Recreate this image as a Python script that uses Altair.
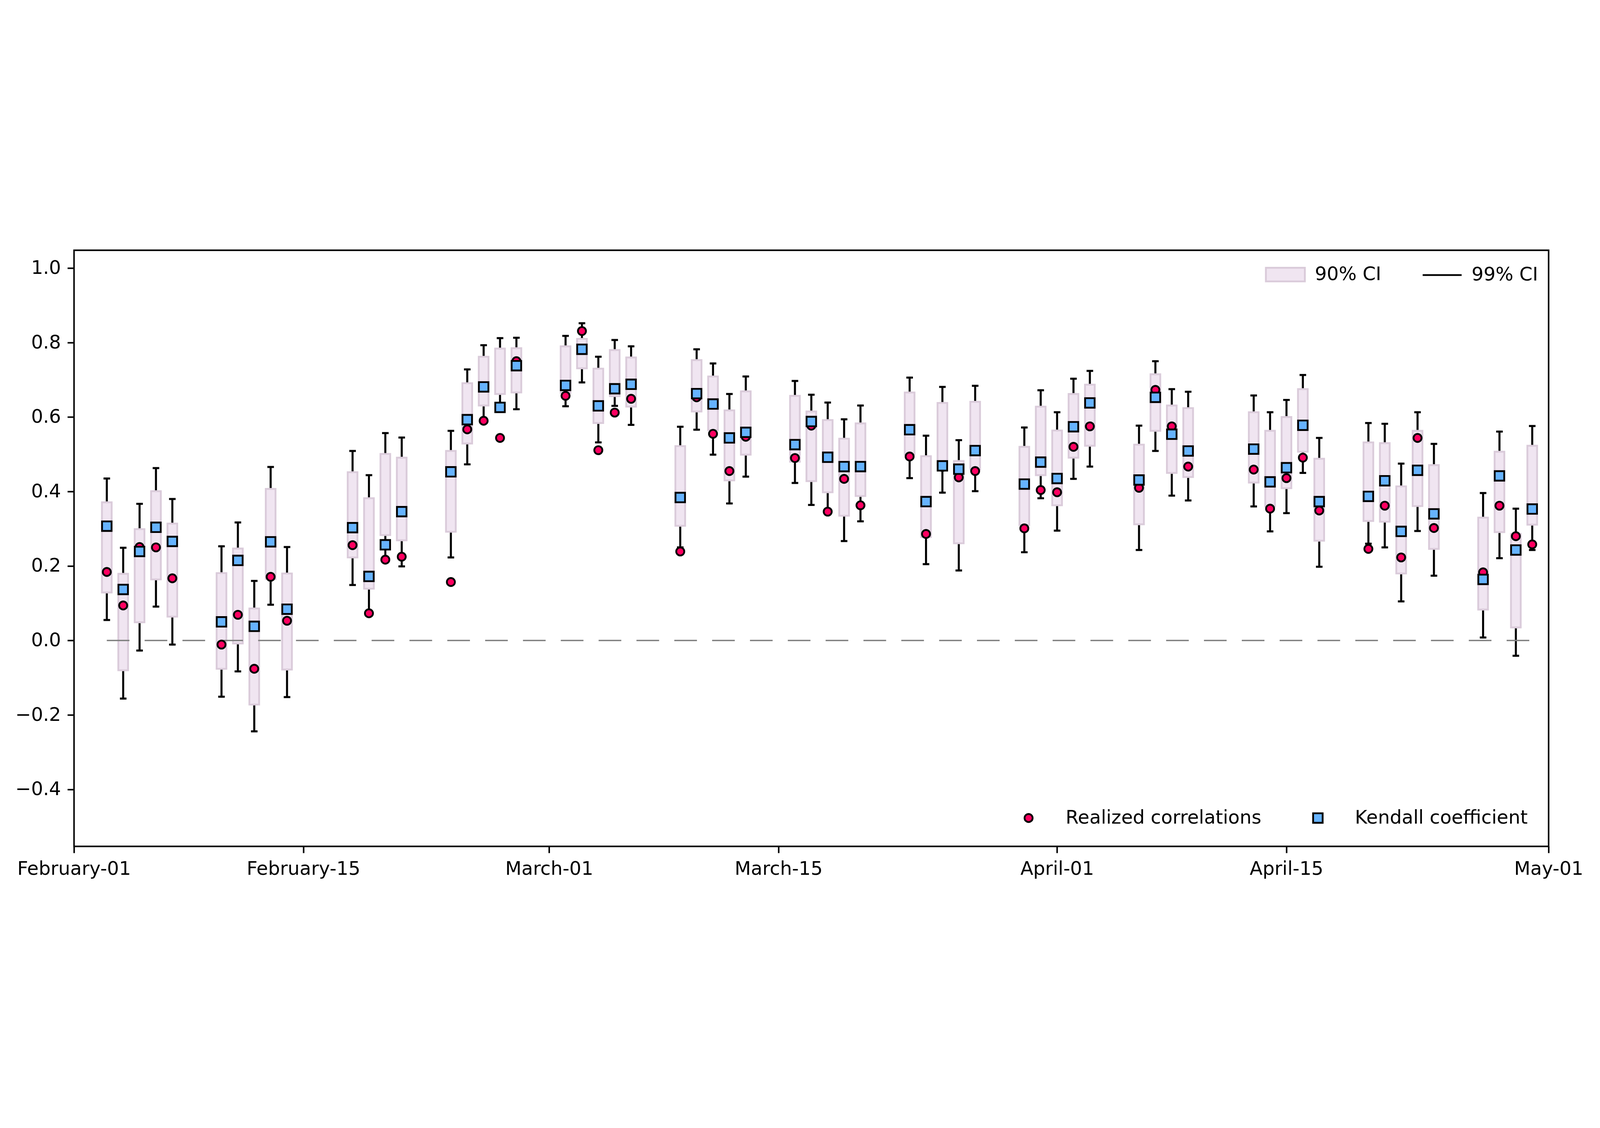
import altair as alt
import pandas as pd

# ---------------- data ----------------
dates = [
    "2020-02-03", "2020-02-04", "2020-02-05", "2020-02-06", "2020-02-07",
    "2020-02-10", "2020-02-11", "2020-02-12", "2020-02-13", "2020-02-14",
    "2020-02-18", "2020-02-19", "2020-02-20", "2020-02-21",
    "2020-02-24", "2020-02-25", "2020-02-26", "2020-02-27", "2020-02-28",
    "2020-03-02", "2020-03-03", "2020-03-04", "2020-03-05", "2020-03-06",
    "2020-03-09", "2020-03-10", "2020-03-11", "2020-03-12", "2020-03-13",
    "2020-03-16", "2020-03-17", "2020-03-18", "2020-03-19", "2020-03-20",
    "2020-03-23", "2020-03-24", "2020-03-25", "2020-03-26", "2020-03-27",
    "2020-03-30", "2020-03-31", "2020-04-01", "2020-04-02", "2020-04-03",
    "2020-04-06", "2020-04-07", "2020-04-08", "2020-04-09",
    "2020-04-13", "2020-04-14", "2020-04-15", "2020-04-16", "2020-04-17",
    "2020-04-20", "2020-04-21", "2020-04-22", "2020-04-23", "2020-04-24",
    "2020-04-27", "2020-04-28", "2020-04-29", "2020-04-30",
]
realized = [
    0.184, 0.094, 0.251, 0.250, 0.167,
    -0.011, 0.069, -0.076, 0.171, 0.053,
    0.256, 0.073, 0.217, 0.225,
    0.157, 0.567, 0.590, 0.544, 0.750,
    0.657, 0.831, 0.511, 0.612, 0.649,
    0.239, 0.653, 0.555, 0.455, 0.547,
    0.490, 0.577, 0.346, 0.434, 0.363,
    0.494, 0.286, 0.466, 0.438, 0.455,
    0.301, 0.404, 0.398, 0.520, 0.575,
    0.410, 0.673, 0.575, 0.467,
    0.459, 0.354, 0.436, 0.491, 0.349,
    0.246, 0.362, 0.223, 0.544, 0.302,
    0.183, 0.362, 0.280, 0.258,
]
kendall = [
    0.307, 0.137, 0.239, 0.304, 0.266,
    0.050, 0.215, 0.038, 0.265, 0.084,
    0.303, 0.172, 0.257, 0.346,
    0.453, 0.593, 0.681, 0.626, 0.738,
    0.685, 0.782, 0.630, 0.676, 0.688,
    0.384, 0.663, 0.635, 0.544, 0.559,
    0.526, 0.588, 0.492, 0.467, 0.467,
    0.566, 0.373, 0.469, 0.460, 0.510,
    0.420, 0.479, 0.435, 0.574, 0.638,
    0.431, 0.653, 0.554, 0.509,
    0.514, 0.426, 0.464, 0.578, 0.373,
    0.387, 0.429, 0.293, 0.457, 0.340,
    0.164, 0.442, 0.243, 0.353,
]
ci90_lo = [
    0.129, -0.080, 0.049, 0.164, 0.064,
    -0.076, -0.008, -0.172, 0.165, -0.078,
    0.223, 0.139, 0.283, 0.269,
    0.292, 0.529, 0.631, 0.662, 0.666,
    0.665, 0.731, 0.584, 0.656, 0.628,
    0.308, 0.615, 0.565, 0.430, 0.499,
    0.480, 0.428, 0.398, 0.335, 0.388,
    0.500, 0.278, 0.470, 0.261, 0.460,
    0.310, 0.444, 0.363, 0.491, 0.523,
    0.312, 0.563, 0.450, 0.439,
    0.424, 0.360, 0.409, 0.507, 0.268,
    0.321, 0.319, 0.180, 0.361, 0.246,
    0.083, 0.291, 0.035, 0.311,
]
ci90_hi = [
    0.371, 0.179, 0.299, 0.401, 0.314,
    0.181, 0.247, 0.086, 0.407, 0.180,
    0.452, 0.382, 0.501, 0.491,
    0.509, 0.691, 0.762, 0.784, 0.785,
    0.790, 0.810, 0.730, 0.780, 0.760,
    0.522, 0.753, 0.709, 0.618, 0.669,
    0.657, 0.615, 0.592, 0.542, 0.583,
    0.666, 0.495, 0.638, 0.482, 0.641,
    0.520, 0.628, 0.564, 0.662, 0.687,
    0.526, 0.715, 0.631, 0.624,
    0.613, 0.563, 0.600, 0.675, 0.488,
    0.532, 0.530, 0.414, 0.563, 0.471,
    0.330, 0.507, 0.286, 0.523,
]
ci99_lo = [
    0.055, -0.156, -0.027, 0.091, -0.011,
    -0.151, -0.083, -0.244, 0.096, -0.152,
    0.149, 0.080, 0.210, 0.199,
    0.223, 0.473, 0.595, 0.630, 0.621,
    0.629, 0.693, 0.532, 0.630, 0.579,
    0.250, 0.566, 0.499, 0.368, 0.440,
    0.423, 0.364, 0.340, 0.267, 0.320,
    0.436, 0.205, 0.397, 0.188, 0.401,
    0.237, 0.382, 0.295, 0.434, 0.467,
    0.243, 0.509, 0.389, 0.376,
    0.360, 0.293, 0.342, 0.450, 0.198,
    0.260, 0.250, 0.105, 0.294, 0.174,
    0.008, 0.221, -0.041, 0.243,
]
ci99_hi = [
    0.435, 0.249, 0.367, 0.463, 0.380,
    0.253, 0.317, 0.160, 0.466, 0.251,
    0.509, 0.444, 0.557, 0.545,
    0.563, 0.728, 0.793, 0.812, 0.813,
    0.818, 0.852, 0.762, 0.807, 0.790,
    0.574, 0.782, 0.744, 0.662, 0.709,
    0.697, 0.660, 0.639, 0.594, 0.631,
    0.706, 0.550, 0.681, 0.538, 0.684,
    0.572, 0.672, 0.613, 0.703, 0.724,
    0.577, 0.750, 0.675, 0.668,
    0.658, 0.613, 0.646, 0.713, 0.544,
    0.584, 0.582, 0.475, 0.613, 0.528,
    0.396, 0.561, 0.354, 0.576,
]

series_names = ["Realized correlations", "Kendall coefficient"]
ci_names = ["90% CI", "99% CI"]
x_domain = ["2020-02-01", "2020-05-01"]
x_tick_dates = ["2020-02-01", "2020-02-15", "2020-03-01", "2020-03-15",
                "2020-04-01", "2020-04-15", "2020-05-01"]
y_ticks = [-0.4, -0.2, 0.0, 0.2, 0.4, 0.6, 0.8, 1.0]
y_domain = [-0.553, 1.048]

# ---------------- tables ----------------
df = pd.DataFrame({
    "date": dates, "lo90": ci90_lo, "hi90": ci90_hi,
    "lo99": ci99_lo, "hi99": ci99_hi,
})
pts = pd.concat([
    pd.DataFrame({"date": dates, "value": realized, "series": series_names[0]}),
    pd.DataFrame({"date": dates, "value": kendall, "series": series_names[1]}),
], ignore_index=True)
zero_df = pd.DataFrame({"start": [dates[0]], "end": [dates[-1]], "y": [0.0]})
leg_df = pd.DataFrame({"ci": ci_names, "date": [dates[0]] * 2, "v": [0.0, 0.0]})


def ms(d):
    return int(pd.Timestamp(d, tz="UTC").value // 10**6)


FONT = "DejaVu Sans"
FS = 83
BOX_FILL = "#f0e5f1"
BOX_EDGE = "#dacbda"
RED = "#ff0060"
BLUE = "#66b3ff"

x_scale = alt.Scale(type="utc", domain=[ms(d) for d in x_domain], nice=False)
x_axis = alt.Axis(values=[ms(d) for d in x_tick_dates],
                  labelExpr="utcFormat(datum.value, '%B-%d')",
                  title=None, labelFlush=False,
                  labelOverlap=False, labelBound=False, labelLimit=3000)
y_scale = alt.Scale(domain=y_domain, nice=False, zero=False)
y_axis = alt.Axis(values=y_ticks, format=".1f", title=None, labelLimit=3000)


def X(field="date"):
    return alt.X(f"{field}:T", scale=x_scale, axis=x_axis, title=None)


def Y(field):
    return alt.Y(f"{field}:Q", scale=y_scale, axis=y_axis, title=None)


whisker = alt.Chart(df).mark_rule(color="black", strokeWidth=9).encode(
    x=X(), y=Y("lo99"), y2="hi99:Q")
cap_lo = alt.Chart(df).mark_rule(color="black", strokeWidth=9,
                                 xOffset=-14.5, x2Offset=14.5).encode(
    x=X(), x2="date:T", y=Y("lo99"))
cap_hi = alt.Chart(df).mark_rule(color="black", strokeWidth=9,
                                 xOffset=-14.5, x2Offset=14.5).encode(
    x=X(), x2="date:T", y=Y("hi99"))
boxes = alt.Chart(df).mark_rect(fill=BOX_FILL, stroke=BOX_EDGE, strokeWidth=8,
                                xOffset=-21.5, x2Offset=21.5).encode(
    x=X(), x2="date:T", y=Y("lo90"), y2="hi90:Q")
zero = alt.Chart(zero_df).mark_rule(color="#808080", strokeWidth=6,
                                    strokeDash=[100, 67]).encode(
    x=X("start"), x2="end:T", y=Y("y"))

pt_legend = alt.Legend(
    title=None, orient="none", legendX=4172, legendY=2464,
    direction="horizontal", labelFontSize=FS, labelFont=FONT,
    labelColor="black", labelLimit=5000, symbolStrokeWidth=8,
    symbolOpacity=1, labelOffset=122, columnPadding=207, padding=0)
points = alt.Chart(pts).mark_point(filled=True, opacity=1,
                                   strokeWidth=8).encode(
    x=X(), y=Y("value"),
    shape=alt.Shape("series:N", scale=alt.Scale(domain=series_names,
                                                range=["circle", "square"]),
                    legend=pt_legend),
    fill=alt.Fill("series:N", scale=alt.Scale(domain=series_names,
                                              range=[RED, BLUE]),
                  legend=pt_legend),
    stroke=alt.Stroke("series:N", scale=alt.Scale(domain=series_names,
                                                  range=["black", "black"]),
                      legend=pt_legend),
    size=alt.Size("series:N", scale=alt.Scale(domain=series_names,
                                              range=[1257, 1764]),
                  legend=pt_legend),
)

ci_legend = alt.Legend(
    title=None, orient="none", legendX=5257, legendY=17,
    direction="horizontal", labelFontSize=FS, labelFont=FONT,
    labelColor="black", labelLimit=5000, symbolSize=29584,
    symbolStrokeWidth=8, symbolOpacity=1, labelOffset=40,
    columnPadding=166, padding=0)
ci_leg = alt.Chart(leg_df).mark_point(filled=True, opacity=1).encode(
    x=X(), y=Y("v"),
    shape=alt.Shape("ci:N", scale=alt.Scale(
        domain=ci_names, range=["M-1,-0.35H1V0.35H-1Z", "stroke"]),
        legend=ci_legend),
    fill=alt.Fill("ci:N", scale=alt.Scale(domain=ci_names,
                                          range=[BOX_FILL, "black"]),
                  legend=ci_legend),
    stroke=alt.Stroke("ci:N", scale=alt.Scale(domain=ci_names,
                                              range=[BOX_EDGE, "black"]),
                      legend=ci_legend),
).transform_filter("false")

chart = alt.layer(whisker, cap_lo, cap_hi, boxes, zero, points, ci_leg).resolve_scale(
    fill="independent", shape="independent", stroke="independent",
    size="independent",
).resolve_legend(
    fill="independent", shape="independent", stroke="independent",
    size="independent",
).properties(
    width=6509, height=2631, background="white",
    padding={"left": 53, "top": 53, "right": 60, "bottom": 40},
).configure_view(
    stroke="black", strokeWidth=6.7,
).configure_axis(
    labelFont=FONT, labelFontSize=FS, labelColor="black",
    tickColor="black", tickSize=29, tickWidth=6.7, labelPadding=29,
    domain=False, grid=False, labelLimit=3000,
)

chart.save("out.html", embed_options={"renderer": "svg", "actions": False})
